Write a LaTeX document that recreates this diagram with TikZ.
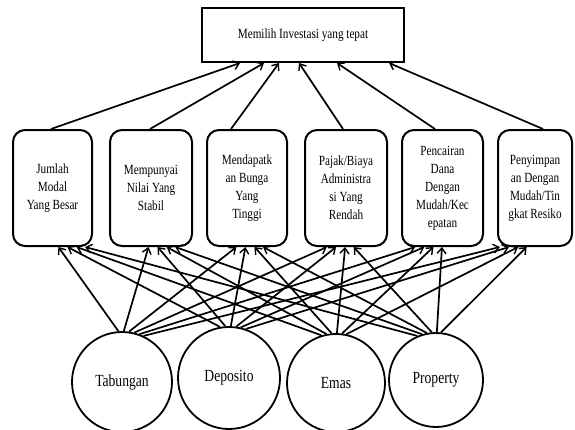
\documentclass[tikz,border=0pt]{standalone}
\usepackage{fontspec}
\setmainfont{Liberation Serif}[FakeStretch=0.8]
\usetikzlibrary{arrows.meta}
\begin{document}
\begin{tikzpicture}[x=1pt,y=-1pt,
  crit/.style={draw,line width=2pt,rounded corners=12pt,minimum height=116pt,
    align=center,inner sep=1pt,font=\fontsize{14}{18}\selectfont},
  goal/.style={draw,line width=2pt,minimum width=202pt,minimum height=54pt,
    font=\fontsize{14}{16}\selectfont},
  alt/.style={draw,circle,line width=1.8pt,inner sep=0pt,font=\fontsize{17}{19}\selectfont},
  arr/.style={line width=1.7pt,-{Straight Barb[length=5.5pt,width=9pt,line width=1.4pt]}}]
\useasboundingbox (0,0) rectangle (575,429);
\node[goal] (top) at (303,35) {Memilih Investasi yang tepat};
\node[crit,minimum width=79pt] (b1) at (52.5,188) {Jumlah\\Modal\\Yang Besar};
\node[crit,minimum width=82pt] (b2) at (151,188) {Mempunyai\\Nilai Yang\\Stabil};
\node[crit,minimum width=80pt] (b3) at (247,188) {Mendapatk\\an Bunga\\Yang\\Tinggi};
\node[crit,minimum width=82pt] (b4) at (346,188) {Pajak/Biaya\\Administra\\si Yang\\Rendah};
\node[crit,minimum width=81pt] (b5) at (442.5,188) {Pencairan\\Dana\\Dengan\\Mudah/Kec\\epatan};
\node[crit,minimum width=74pt] (b6) at (535,188) {Penyimpan\\an Dengan\\Mudah/Tin\\gkat Resiko};
\node[alt,minimum size=100pt] (c1) at (122,382) {Tabungan};
\node[alt,minimum size=102pt] (c2) at (229,378) {Deposito};
\node[alt,minimum size=98pt] (c3) at (336,383) {Emas};
\node[alt,minimum size=94pt] (c4) at (436,380) {Property};
% criteria to goal
\draw[arr] ([xshift=-1.5pt]b1.north) -- ([xshift=-63pt]top.south);
\draw[arr] ([xshift=-1pt]b2.north) -- ([xshift=-39pt]top.south);
\draw[arr] ([xshift=-16pt]b3.north) -- ([xshift=-24pt]top.south);
\draw[arr] ([xshift=-3pt]b4.north) -- ([xshift=-4pt]top.south);
\draw[arr] ([xshift=-7.5pt]b5.north) -- ([xshift=34pt]top.south);
\draw[arr] ([xshift=8pt]b6.north) -- ([xshift=86pt]top.south);
% alternatives to criteria
\foreach \i/\cx in {1/122,2/229,3/336,4/436}{
  \foreach \j/\bx in {1/52.5,2/151,3/247,4/346,5/442.5,6/535}{
    \pgfmathsetmacro{\ang}{90-0.06*(\bx-\cx)}
    \pgfmathsetmacro{\dx}{0.085*(\cx-\bx)}
    \draw[arr] (c\i.\ang) -- ([xshift=\dx pt]b\j.south);
  }
}
\end{tikzpicture}
\end{document}
